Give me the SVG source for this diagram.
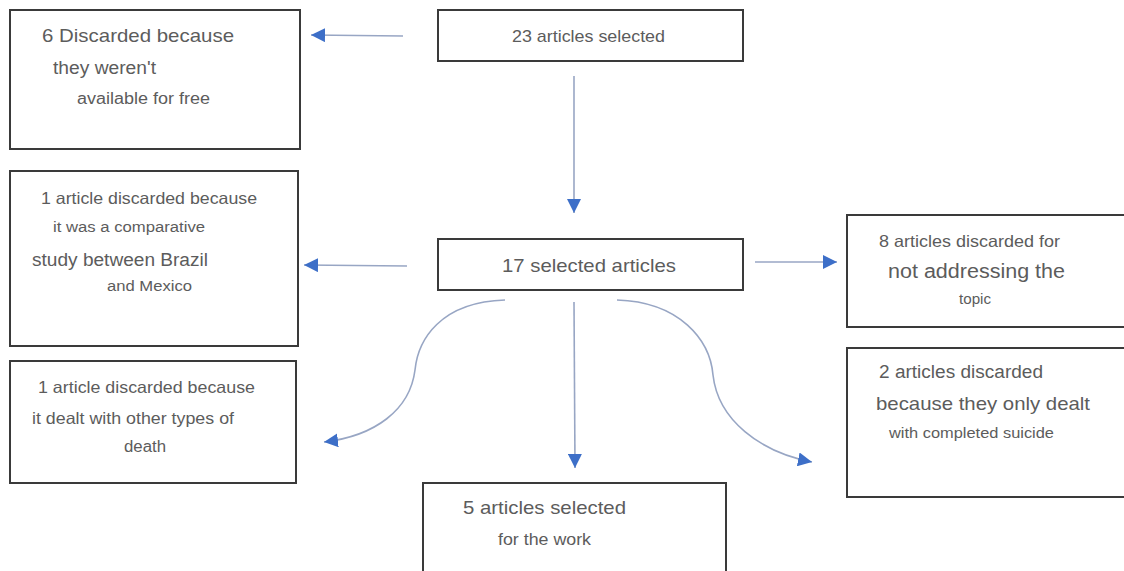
<svg xmlns="http://www.w3.org/2000/svg" width="1124" height="571" viewBox="0 0 1124 571">
<style>
.box{fill:#fff;stroke:#3a3a3a;stroke-width:2}
text{font-family:"Liberation Sans",Arial,sans-serif;fill:#5c5c5c}
.c{fill:none;stroke:#98a6c4;stroke-width:1.6}
</style>
<defs>
<marker id="ah" viewBox="0 0 10 10" refX="10" refY="5" markerWidth="14" markerHeight="14" markerUnits="userSpaceOnUse" orient="auto">
<path d="M0,0 L10,5 L0,10 Z" fill="#3d6fc8"/>
</marker>
</defs>
<rect width="1124" height="571" fill="#fff"/>
<g id="connectors">
<line class="c" x1="403" y1="36" x2="311" y2="35" marker-end="url(#ah)"/>
<line class="c" x1="574" y1="76" x2="574" y2="213" marker-end="url(#ah)"/>
<line class="c" x1="407" y1="266" x2="304" y2="265" marker-end="url(#ah)"/>
<line class="c" x1="755" y1="262" x2="837" y2="262" marker-end="url(#ah)"/>
<line class="c" x1="574" y1="302" x2="575" y2="468" marker-end="url(#ah)"/>
<path class="c" d="M505,300 C440,302 418,340 415,370 C410,410 375,436 324,442" marker-end="url(#ah)"/>
<path class="c" d="M617,300 C680,302 710,340 713,375 C718,420 760,452 812,462" marker-end="url(#ah)"/>
</g>
<g id="n-discarded6">
<rect class="box" x="10" y="10" width="290" height="139"/>
<text x="42" y="42" font-size="19" textLength="192" lengthAdjust="spacingAndGlyphs">6 Discarded because</text>
<text x="53" y="74" font-size="18" textLength="103" lengthAdjust="spacingAndGlyphs">they weren't</text>
<text x="77" y="104" font-size="16" textLength="133" lengthAdjust="spacingAndGlyphs">available for free</text>
</g>
<g id="n-23">
<rect class="box" x="438" y="10" width="305" height="51"/>
<text x="512" y="42" font-size="17" textLength="153" lengthAdjust="spacingAndGlyphs">23 articles selected</text>
</g>
<g id="n-comparative">
<rect class="box" x="10" y="171" width="288" height="175"/>
<text x="41" y="204" font-size="16.5" textLength="216" lengthAdjust="spacingAndGlyphs">1 article discarded because</text>
<text x="53" y="232" font-size="15.5" textLength="152" lengthAdjust="spacingAndGlyphs">it was a comparative</text>
<text x="32" y="266" font-size="18" textLength="176" lengthAdjust="spacingAndGlyphs">study between Brazil</text>
<text x="107" y="291" font-size="15.5" textLength="85" lengthAdjust="spacingAndGlyphs">and Mexico</text>
</g>
<g id="n-17">
<rect class="box" x="438" y="239" width="305" height="51"/>
<text x="502" y="272" font-size="19" textLength="174" lengthAdjust="spacingAndGlyphs">17 selected articles</text>
</g>
<g id="n-topic">
<rect class="box" x="847" y="215" width="280" height="112"/>
<text x="879" y="247" font-size="16.5" textLength="181" lengthAdjust="spacingAndGlyphs">8 articles discarded for</text>
<text x="888" y="278" font-size="19.5" textLength="177" lengthAdjust="spacingAndGlyphs">not addressing the</text>
<text x="959" y="304" font-size="14" textLength="32" lengthAdjust="spacingAndGlyphs">topic</text>
</g>
<g id="n-death">
<rect class="box" x="10" y="361" width="286" height="122"/>
<text x="38" y="393" font-size="16.5" textLength="217" lengthAdjust="spacingAndGlyphs">1 article discarded because</text>
<text x="32" y="424" font-size="16.5" textLength="202" lengthAdjust="spacingAndGlyphs">it dealt with other types of</text>
<text x="124" y="452" font-size="16" textLength="42" lengthAdjust="spacingAndGlyphs">death</text>
</g>
<g id="n-suicide">
<rect class="box" x="847" y="348" width="280" height="149"/>
<text x="879" y="378" font-size="18" textLength="164" lengthAdjust="spacingAndGlyphs">2 articles discarded</text>
<text x="876" y="410" font-size="19" textLength="214" lengthAdjust="spacingAndGlyphs">because they only dealt</text>
<text x="889" y="438" font-size="15.5" textLength="165" lengthAdjust="spacingAndGlyphs">with completed suicide</text>
</g>
<g id="n-5">
<rect class="box" x="423" y="483" width="303" height="100"/>
<text x="463" y="514" font-size="19" textLength="163" lengthAdjust="spacingAndGlyphs">5 articles selected</text>
<text x="498" y="545" font-size="16.5" textLength="93" lengthAdjust="spacingAndGlyphs">for the work</text>
</g>
</svg>
